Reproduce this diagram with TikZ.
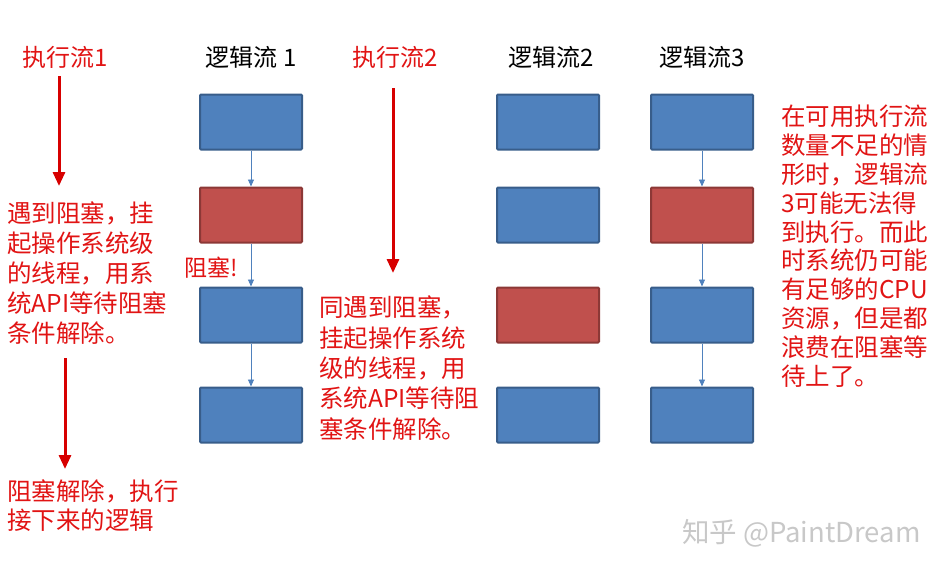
\documentclass[tikz,border=0pt]{standalone}
\usepackage{fontspec}
\newfontfamily\cjk{Noto Sans CJK SC}
\usetikzlibrary{arrows.meta}
\definecolor{boxblue}{HTML}{4F81BD}
\definecolor{boxblueline}{HTML}{385D8A}
\definecolor{boxred}{HTML}{C0504D}
\definecolor{boxredline}{HTML}{8C3836}
\definecolor{txtred}{RGB}{225,20,20}
\definecolor{arrred}{RGB}{215,0,0}
\definecolor{wmgray}{RGB}{200,200,200}
\tikzset{
  bluebox/.style={draw=boxblueline,fill=boxblue,line width=2pt,minimum width=102pt,minimum height=55pt,inner sep=0pt,rounded corners=1pt},
  redbox/.style={draw=boxredline,fill=boxred,line width=2pt,minimum width=102pt,minimum height=55pt,inner sep=0pt,rounded corners=1pt},
  title/.style={font=\cjk\fontsize{24}{28}\selectfont,inner sep=0pt},
  redtitle/.style={title,text=txtred},
  note/.style={font=\cjk\fontsize{24.5}{30}\selectfont,text=txtred,align=left,anchor=north west,inner sep=0pt},
  thin/.style={draw=boxblue,line width=0.9pt,-{Triangle[width=6pt,length=7pt]}},
  thick/.style={draw=arrred,line width=3pt,-{Triangle[width=12pt,length=14pt]}}
}
\begin{document}
\begin{tikzpicture}[x=1pt,y=-1pt]
\useasboundingbox (0,0) rectangle (948,571);
% titles
\node[redtitle] (t1) at (65,57) {执行流1};
\node[title] (l1) at (251,57) {逻辑流 1};
\node[redtitle] (t2) at (395,57) {执行流2};
\node[title] (l2) at (551,57) {逻辑流2};
\node[title] (l3) at (702,57) {逻辑流3};
% column 1
\node[bluebox] (a1) at (251,122) {};
\node[redbox]  (a2) at (251,215) {};
\node[bluebox] (a3) at (251,315) {};
\node[bluebox] (a4) at (251,415) {};
% column 2
\node[bluebox] (b1) at (548,122) {};
\node[bluebox] (b2) at (548,215) {};
\node[redbox]  (b3) at (548,315) {};
\node[bluebox] (b4) at (548,415) {};
% column 3
\node[bluebox] (c1) at (702,122) {};
\node[redbox]  (c2) at (702,215) {};
\node[bluebox] (c3) at (702,315) {};
\node[bluebox] (c4) at (702,415) {};
% thin arrows
\draw[thin] (a1) -- (a2);
\draw[thin] (a2) -- (a3);
\draw[thin] (a3) -- (a4);
\draw[thin] (c1) -- (c2);
\draw[thin] (c2) -- (c3);
\draw[thin] (c3) -- (c4);
% label
\node[font=\cjk\fontsize{23}{26}\selectfont,text=txtred,anchor=west,inner sep=0pt] (blk) at (184,268) {阻塞!};
% notes
\node[note] (n1) at (7,202) {遇到阻塞，挂\\起操作系统级\\的线程，用系\\统API等待阻塞\\条件解除。};
\node[note,font=\cjk\fontsize{24.5}{29}\selectfont] (n2) at (7,480) {阻塞解除，执行\\接下来的逻辑};
\node[note,font=\cjk\fontsize{24.5}{30.3}\selectfont] (n3) at (319,296) {同遇到阻塞，\\挂起操作系统\\级的线程，用\\系统API等待阻\\塞条件解除。};
\node[note,font=\cjk\fontsize{24.5}{28.8}\selectfont] (n4) at (781,105) {在可用执行流\\数量不足的情\\形时，逻辑流\\3可能无法得\\到执行。而此\\时系统仍可能\\有足够的CPU\\资源，但是都\\浪费在阻塞等\\待上了。};
% red arrows
\coordinate (p1s) at (59,76);
\coordinate (p1e) at (59,186);
\coordinate (p2s) at (65,358);
\coordinate (p2e) at (65,469);
\coordinate (p3s) at (393,88);
\coordinate (p3e) at (393,273);
\draw[thick] (p1s) -- (p1e);
\draw[thick] (p2s) -- (p2e);
\draw[thick] (p3s) -- (p3e);
% watermark
\node[font=\cjk\fontsize{27.5}{30}\selectfont,text=wmgray,anchor=west,inner sep=0pt] (wm) at (682,533) {知乎 @PaintDream};
\end{tikzpicture}
\end{document}
